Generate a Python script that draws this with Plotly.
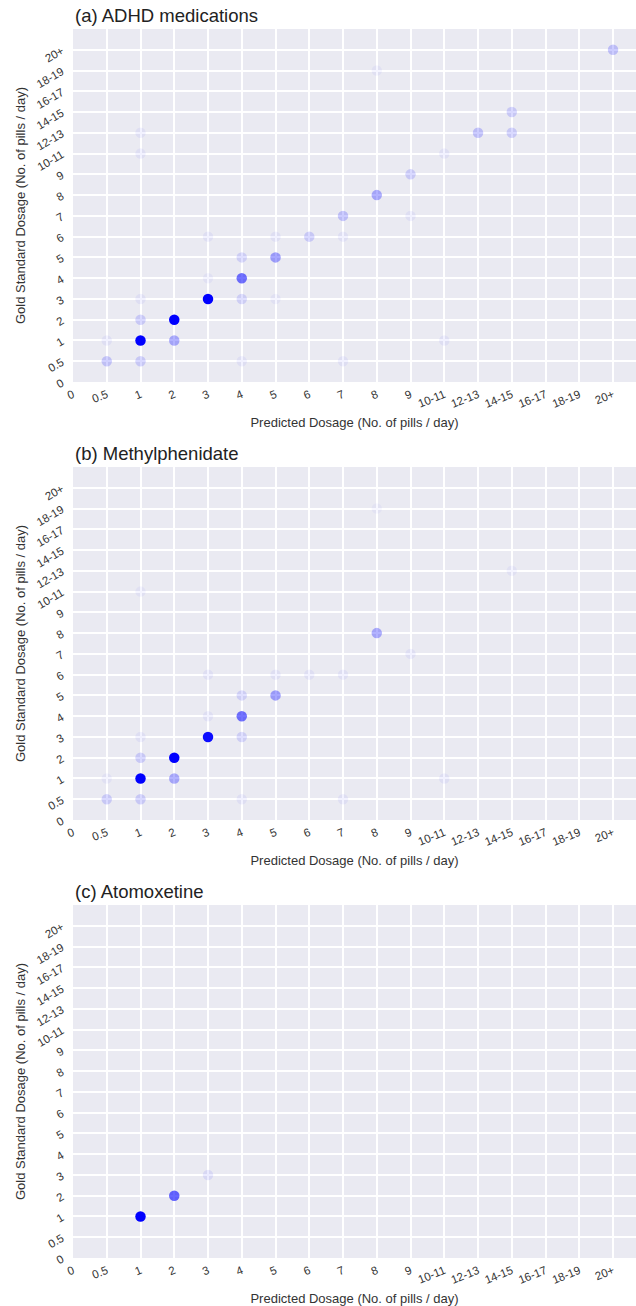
import plotly.graph_objects as go

categories = ["0", "0.5", "1", "2", "3", "4", "5", "6", "7", "8", "9",
              "10-11", "12-13", "14-15", "16-17", "18-19", "20+"]

# Panel (a) ADHD medications: predicted, gold standard, relative frequency (shade)
adhd_pred = ["0.5", "0.5", "1", "1", "1", "1", "1", "1", "2", "2", "3", "3", "3",
             "4", "4", "4", "4", "5", "5", "5", "6", "7", "7", "7", "8", "8",
             "9", "9", "10-11", "10-11", "12-13", "14-15", "14-15", "20+"]
adhd_gold = ["0.5", "1", "0.5", "1", "2", "3", "10-11", "12-13", "1", "2", "3", "4", "6",
             "0.5", "3", "4", "5", "3", "5", "6", "6", "7", "6", "0.5", "8", "18-19",
             "9", "7", "10-11", "1", "12-13", "12-13", "14-15", "20+"]
adhd_freq = [0.18, 0.05, 0.15, 1.0, 0.15, 0.05, 0.05, 0.05, 0.3, 1.0, 1.0, 0.04, 0.05,
             0.05, 0.12, 0.55, 0.12, 0.04, 0.35, 0.05, 0.15, 0.2, 0.05, 0.05, 0.3, 0.04,
             0.15, 0.05, 0.05, 0.05, 0.2, 0.15, 0.15, 0.2]

# Panel (b) Methylphenidate
mph_pred = ["0.5", "0.5", "1", "1", "1", "1", "1", "2", "2", "3", "3", "3",
            "4", "4", "4", "4", "5", "5", "6", "7", "7", "8", "8", "9", "10-11", "14-15"]
mph_gold = ["0.5", "1", "0.5", "1", "2", "3", "10-11", "1", "2", "3", "4", "6",
            "0.5", "3", "4", "5", "5", "6", "6", "6", "0.5", "8", "18-19", "7", "1", "12-13"]
mph_freq = [0.15, 0.04, 0.15, 1.0, 0.15, 0.05, 0.04, 0.3, 1.0, 0.95, 0.05, 0.05,
            0.05, 0.12, 0.55, 0.12, 0.35, 0.05, 0.05, 0.05, 0.05, 0.3, 0.03, 0.05, 0.05, 0.04]

# Panel (c) Atomoxetine
ato_pred = ["1", "2", "3"]
ato_gold = ["1", "2", "3"]
ato_freq = [1.0, 0.6, 0.08]

panels = [
    ("(a) ADHD medications", adhd_pred, adhd_gold, adhd_freq),
    ("(b) Methylphenidate", mph_pred, mph_gold, mph_freq),
    ("(c) Atomoxetine", ato_pred, ato_gold, ato_freq),
]

W, H = 636, 1306
ML, MR, MT, MB = 73, 0, 29, 48
plot_h = H - MT - MB
panel_px = [(29, 382), (467, 820), (905, 1258)]

FONT = "Liberation Sans, Arial, sans-serif"
TXT = "#333333"
BG = "#EAEAF2"

fig = go.Figure()
annotations = []
for i, (title, px, gy, fr) in enumerate(panels):
    n = i + 1
    top, bot = panel_px[i]
    d0 = (H - MB - bot) / plot_h
    d1 = (H - MB - top) / plot_h
    xa = "x" if n == 1 else f"x{n}"
    ya = "y" if n == 1 else f"y{n}"
    fig.add_trace(go.Scatter(
        x=px, y=gy, mode="markers", xaxis=xa, yaxis=ya, showlegend=False,
        marker=dict(size=10.5, color=[f"rgba(0,0,255,{a})" for a in fr],
                    line=dict(width=0)),
        hoverinfo="x+y",
    ))
    axx = dict(
        type="category", categoryorder="array", categoryarray=categories,
        range=[0, 16.68], anchor=ya, domain=[0, 1],
        showgrid=True, gridcolor="white", gridwidth=1.5, zeroline=False,
        showline=False, ticks="", tickangle=-22, ticklabelstandoff=3,
        tickfont=dict(family=FONT, size=11.5, color=TXT),
        title=dict(text="Predicted Dosage (No. of pills / day)",
                   font=dict(family=FONT, size=13, color=TXT), standoff=8),
    )
    ayy = dict(
        type="category", categoryorder="array", categoryarray=categories,
        range=[0, 17], anchor=xa, domain=[d0, d1],
        showgrid=True, gridcolor="white", gridwidth=1.5, zeroline=False,
        showline=False, ticks="", tickangle=-30, ticklabelstandoff=10,
        tickfont=dict(family=FONT, size=11.5, color=TXT),
        title=dict(text="Gold Standard Dosage (No. of pills / day)",
                   font=dict(family=FONT, size=13, color=TXT), standoff=5),
    )
    fig.update_layout(**{("xaxis" if n == 1 else f"xaxis{n}"): axx,
                         ("yaxis" if n == 1 else f"yaxis{n}"): ayy})
    annotations.append(dict(
        text=title, xref="paper", yref="paper", x=0, y=d1,
        xanchor="left", yanchor="bottom", yshift=1, showarrow=False,
        font=dict(family=FONT, size=18.5, color="#222222"),
    ))
    fig.add_shape(type="rect", xref="paper", yref="paper", x0=0, x1=1, y0=d0, y1=d1,
                  fillcolor=BG, line=dict(width=0), layer="below")

fig.update_layout(
    width=W, height=H,
    margin=dict(l=ML, r=MR, t=MT, b=MB),
    paper_bgcolor="white", plot_bgcolor="rgba(0,0,0,0)",
    annotations=annotations,
)

fig.write_html(
    "out.html",
    config={"displayModeBar": False},
    post_script="document.body.style.margin='0';document.body.style.overflow='hidden';",
)
